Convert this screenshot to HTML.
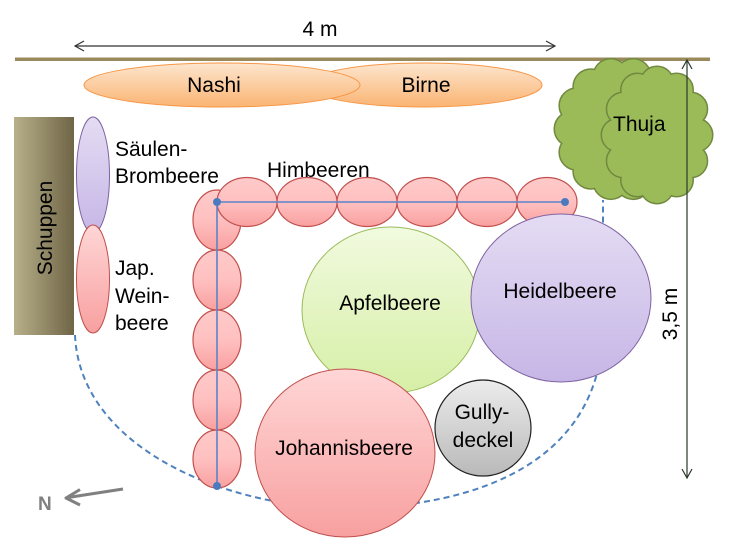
<!DOCTYPE html>
<html><head><meta charset="utf-8"><style>
html,body{margin:0;padding:0;background:#fff;}
svg{display:block;}
text{font-family:"Liberation Sans",Arial,sans-serif;font-size:21px;fill:#000;}
</style></head><body>
<svg width="733" height="558" viewBox="0 0 733 558" xmlns="http://www.w3.org/2000/svg">
<defs>
<linearGradient id="gOr" x1="0" y1="0" x2="0" y2="1"><stop offset="0" stop-color="#fde6cf"/><stop offset="1" stop-color="#fab472"/></linearGradient>
<linearGradient id="gPu" x1="0" y1="0" x2="0" y2="1"><stop offset="0" stop-color="#e4dcf3"/><stop offset="1" stop-color="#c6b6e6"/></linearGradient>
<linearGradient id="gPk" x1="0" y1="0" x2="0" y2="1"><stop offset="0" stop-color="#ffd6d6"/><stop offset="1" stop-color="#f8a0a0"/></linearGradient>
<linearGradient id="gPk2" x1="0" y1="0" x2="0" y2="1"><stop offset="0" stop-color="#ffcaca"/><stop offset="0.5" stop-color="#ffc0c0"/><stop offset="1" stop-color="#f9a0a0"/></linearGradient>
<linearGradient id="gGr" x1="0" y1="0" x2="0" y2="1"><stop offset="0" stop-color="#f1fadf"/><stop offset="1" stop-color="#d6efa6"/></linearGradient>
<linearGradient id="gGy" x1="0" y1="0" x2="0" y2="1"><stop offset="0" stop-color="#ececec"/><stop offset="1" stop-color="#b9b9b9"/></linearGradient>
<linearGradient id="gSh" x1="0" y1="0" x2="1" y2="0"><stop offset="0" stop-color="#b8b08a"/><stop offset="1" stop-color="#6f6547"/></linearGradient>
</defs>

<!-- top bar -->
<rect x="15" y="57.5" width="695" height="3.5" fill="#9a8a5b"/>

<!-- 4 m arrow -->
<line x1="75" y1="46" x2="555" y2="46" stroke="#333" stroke-width="1.2"/>
<polyline points="84,41 75,46 84,51" fill="none" stroke="#333" stroke-width="1.2"/>
<polyline points="546,41 555,46 546,51" fill="none" stroke="#333" stroke-width="1.2"/>
<text x="320" y="36" text-anchor="middle">4 m</text>

<!-- Birne & Nashi -->
<ellipse cx="424" cy="85" rx="118" ry="22" fill="url(#gOr)" stroke="#f79646" stroke-width="1"/>
<ellipse cx="222" cy="85" rx="138" ry="22" fill="url(#gOr)" stroke="#f79646" stroke-width="1"/>
<text x="214" y="92" text-anchor="middle">Nashi</text>
<text x="426" y="92" text-anchor="middle">Birne</text>

<!-- Schuppen -->
<rect x="14" y="117" width="60" height="218" fill="url(#gSh)"/>
<text transform="translate(52,228) rotate(-90)" text-anchor="middle">Schuppen</text>

<!-- dashed boundary -->
<path d="M75,335 C80,450 230,508 345,508 C480,508 600,460 603,330 L603,200" fill="none" stroke="#4f81bd" stroke-width="2" stroke-dasharray="6,4"/>

<!-- Säulen / Jap -->
<ellipse cx="93" cy="175" rx="16.5" ry="58" fill="url(#gPu)" stroke="#8064a2" stroke-width="1"/>
<ellipse cx="93" cy="279" rx="16.5" ry="54" fill="url(#gPk)" stroke="#c0504d" stroke-width="1"/>
<text x="115" y="156">Säulen-</text>
<text x="115" y="183">Brombeere</text>
<text x="115" y="275">Jap.</text>
<text x="115" y="303">Wein-</text>
<text x="115" y="330">beere</text>

<!-- Himbeeren vertical -->
<g fill="url(#gPk2)" stroke="#c0504d" stroke-width="1.2">
<ellipse cx="217" cy="459" rx="24" ry="29"/>
<ellipse cx="217" cy="400" rx="24" ry="30"/>
<ellipse cx="217" cy="340" rx="24" ry="30"/>
<ellipse cx="217" cy="280" rx="24" ry="30"/>
<ellipse cx="217" cy="220" rx="24" ry="30"/>
<!-- horizontal -->
<ellipse cx="547" cy="202" rx="30" ry="24.5"/>
<ellipse cx="487" cy="202" rx="30" ry="24.5"/>
<ellipse cx="427" cy="202" rx="30" ry="24.5"/>
<ellipse cx="367" cy="202" rx="30" ry="24.5"/>
<ellipse cx="307" cy="202" rx="30" ry="24.5"/>
<ellipse cx="247" cy="202" rx="30" ry="24.5"/>
</g>
<g stroke="#5b83c9" stroke-width="1.6">
<line x1="217" y1="202" x2="565" y2="202"/>
<line x1="217" y1="202" x2="217" y2="486"/>
</g>
<g fill="#4a7bc0">
<circle cx="217" cy="202" r="4"/>
<circle cx="565" cy="202" r="4"/>
<circle cx="217" cy="486" r="4"/>
</g>
<text x="267" y="177">Himbeeren</text>

<!-- big circles -->
<ellipse cx="391" cy="310" rx="89" ry="83" fill="url(#gGr)" stroke="#9bbb59" stroke-width="1"/>
<ellipse cx="561" cy="298" rx="90" ry="84" fill="url(#gPu)" stroke="#8064a2" stroke-width="1"/>
<ellipse cx="345" cy="453" rx="90" ry="84" fill="url(#gPk)" stroke="#c0504d" stroke-width="1"/>
<circle cx="483" cy="428" r="48" fill="url(#gGy)" stroke="#222" stroke-width="1.2"/>
<text x="390" y="310" text-anchor="middle">Apfelbeere</text>
<text x="560" y="298" text-anchor="middle">Heidelbeere</text>
<text x="344" y="455" text-anchor="middle">Johannisbeere</text>
<text x="482" y="419" text-anchor="middle">Gully-</text>
<text x="483" y="447" text-anchor="middle">deckel</text>

<!-- Thuja back cloud -->
<g stroke="#71893f" stroke-width="3" fill="#9bbb59">
<circle cx="672" cy="129" r="17"/><circle cx="667.1" cy="152.4" r="17"/><circle cx="653.2" cy="171.2" r="17"/><circle cx="633.2" cy="181.6" r="17"/><circle cx="610.8" cy="181.6" r="17"/><circle cx="590.8" cy="171.2" r="17"/><circle cx="576.9" cy="152.4" r="17"/><circle cx="572" cy="129" r="17"/><circle cx="576.9" cy="105.6" r="17"/><circle cx="590.8" cy="86.8" r="17"/><circle cx="610.8" cy="76.4" r="17"/><circle cx="633.2" cy="76.4" r="17"/><circle cx="653.2" cy="86.8" r="17"/><circle cx="667.1" cy="105.6" r="17"/>
</g>
<g fill="#9bbb59">
<circle cx="672" cy="129" r="17"/><circle cx="667.1" cy="152.4" r="17"/><circle cx="653.2" cy="171.2" r="17"/><circle cx="633.2" cy="181.6" r="17"/><circle cx="610.8" cy="181.6" r="17"/><circle cx="590.8" cy="171.2" r="17"/><circle cx="576.9" cy="152.4" r="17"/><circle cx="572" cy="129" r="17"/><circle cx="576.9" cy="105.6" r="17"/><circle cx="590.8" cy="86.8" r="17"/><circle cx="610.8" cy="76.4" r="17"/><circle cx="633.2" cy="76.4" r="17"/><circle cx="653.2" cy="86.8" r="17"/><circle cx="667.1" cy="105.6" r="17"/>
<ellipse cx="622" cy="129" rx="55" ry="58"/>
</g>
<!-- Thuja front cloud -->
<g stroke="#71893f" stroke-width="3" fill="#9bbb59">
<circle cx="696" cy="135" r="16"/><circle cx="690.8" cy="161" r="16"/><circle cx="676.5" cy="180" r="16"/><circle cx="657" cy="187" r="16"/><circle cx="637.5" cy="180" r="16"/><circle cx="623.2" cy="161" r="16"/><circle cx="618" cy="135" r="16"/><circle cx="623.2" cy="109" r="16"/><circle cx="637.5" cy="90" r="16"/><circle cx="657" cy="83" r="16"/><circle cx="676.5" cy="90" r="16"/><circle cx="690.8" cy="109" r="16"/>
</g>
<g fill="#9bbb59">
<circle cx="696" cy="135" r="16"/><circle cx="690.8" cy="161" r="16"/><circle cx="676.5" cy="180" r="16"/><circle cx="657" cy="187" r="16"/><circle cx="637.5" cy="180" r="16"/><circle cx="623.2" cy="161" r="16"/><circle cx="618" cy="135" r="16"/><circle cx="623.2" cy="109" r="16"/><circle cx="637.5" cy="90" r="16"/><circle cx="657" cy="83" r="16"/><circle cx="676.5" cy="90" r="16"/><circle cx="690.8" cy="109" r="16"/>
<ellipse cx="657" cy="135" rx="42" ry="55"/>
</g>
<text x="613" y="131">Thuja</text>

<!-- 3,5 m arrow -->
<line x1="687" y1="60" x2="687" y2="478" stroke="#2a3a2a" stroke-width="1.2"/>
<polyline points="682,69 687,60 692,69" fill="none" stroke="#2a3a2a" stroke-width="1.2"/>
<polyline points="682,469 687,478 692,469" fill="none" stroke="#2a3a2a" stroke-width="1.2"/>
<text transform="translate(677,314) rotate(-90)" text-anchor="middle">3,5 m</text>

<!-- N arrow -->
<line x1="123" y1="489" x2="68" y2="497.5" stroke="#808080" stroke-width="3"/>
<polyline points="80,489.5 66,498 80,505" fill="none" stroke="#808080" stroke-width="3" stroke-linejoin="round"/>
<text x="38" y="510" style="font-weight:bold;font-size:19px;fill:#808080">N</text>
</svg>
</body></html>
